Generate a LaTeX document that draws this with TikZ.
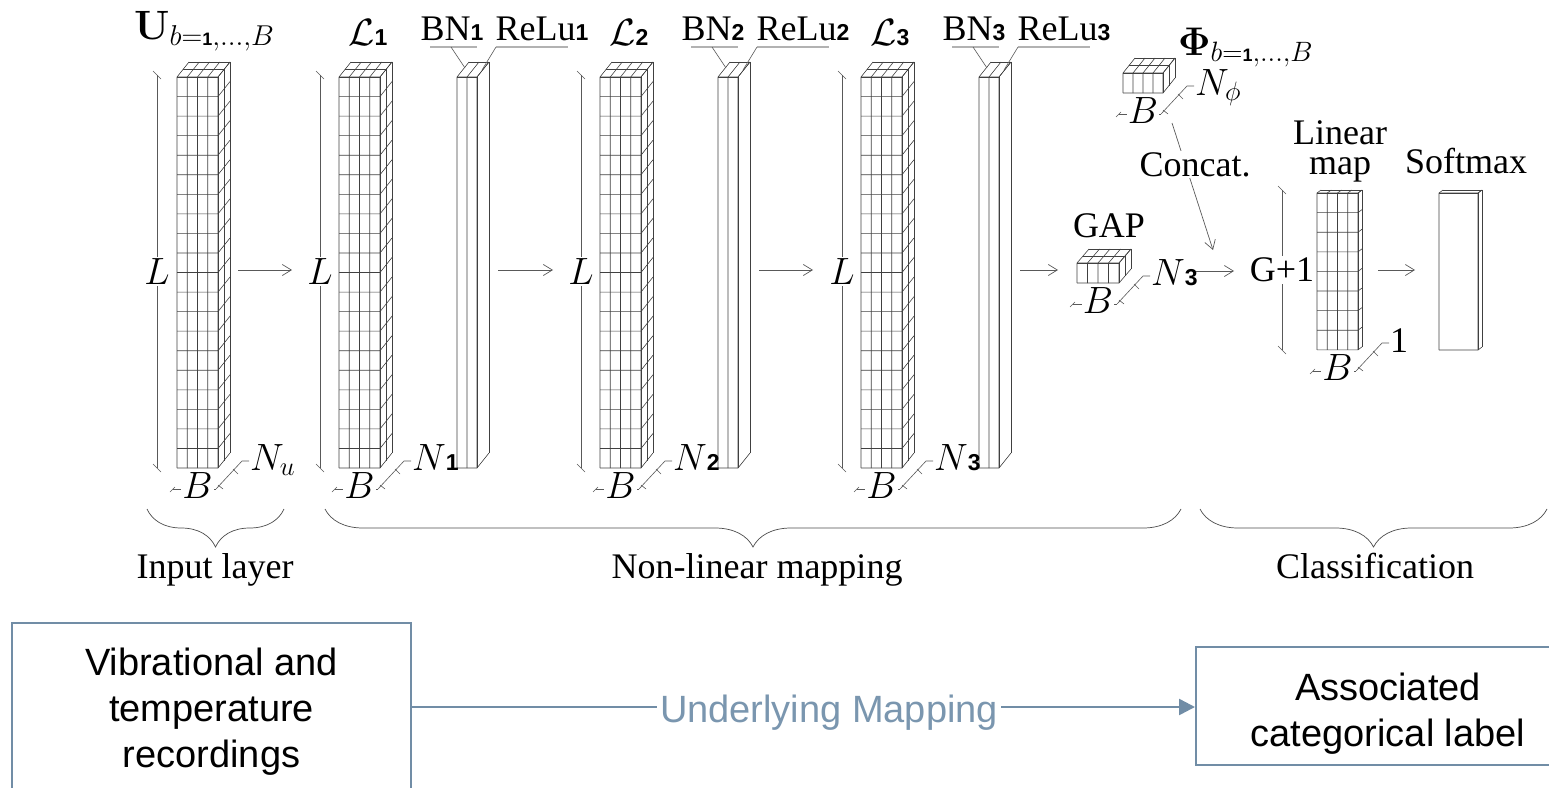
\documentclass[tikz,border=0pt]{standalone}
\usepackage{fix-cm}
\usepackage[no-math]{fontspec}
\setmainfont{Liberation Serif}
\newfontfamily\arialf{Liberation Sans}
\usetikzlibrary{arrows.meta,decorations.pathreplacing,calc}
\definecolor{steel}{RGB}{113,141,166}
\definecolor{steeltxt}{RGB}{122,150,175}
\newcommand\sone{\mbox{\fontsize{18}{18}\selectfont\arialf\bfseries 1}}
\newcommand\sd[1]{\mbox{\fontsize{23}{23}\selectfont\arialf\bfseries #1}}
\tikzset{
 gridln/.style={draw=black!75, line width=0.6pt},
 flow/.style={draw=black!65, line width=0.7pt, -{Straight Barb[length=9pt,width=11pt]}},
 dimln/.style={draw=black!65, line width=0.6pt},
 leader/.style={draw=black!30, line width=1.4pt},
 tx/.style={font=\fontsize{36}{40}\selectfont, inner sep=1pt},
 mx/.style={font=\fontsize{38}{42}\selectfont, inner sep=1pt},
 curly/.style={decorate, decoration={brace, mirror, amplitude=38pt}, draw=black!70, line width=0.7pt},
 blockbox/.style={draw=steel, line width=2pt, fill=white, align=center, font=\fontsize{38}{46}\selectfont\arialf, inner sep=0pt},
}
% x0, y0, ncols, nrows, colw, rowh, dx, dy, ndepth
\newcommand{\tens}[9]{%
 \pgfmathsetmacro{\tW}{#3*#5}%
 \pgfmathsetmacro{\tH}{#4*#6}%
 \foreach \i in {0,...,#3}{\draw[gridln] ({#1+\i*#5},{#2+\tH}) -- ({#1+\i*#5},{#2}) -- ++({#7},{#8});}
 \foreach \j in {0,...,#4}{\draw[gridln] ({#1},{#2+\j*#6}) -- ++({\tW},0) -- ++({#7},{#8});}
 \foreach \k in {0,...,#9}{\draw[gridln] ({#1+\k*(#7)/#9},{#2+\k*(#8)/#9}) -- ++({\tW},0) -- ++(0,{\tH});}
}
% x, ytop, ybot, name, label
\newcommand{\Ldim}[5]{%
 \draw[dimln] ({#1},{#2}) -- ({#1},{#3});
 \draw[dimln] ({#1-4},{#2-4}) -- ({#1+4},{#2+4});
 \draw[dimln] ({#1-4},{#3-4}) -- ({#1+4},{#3+4});
 \node[mx,fill=white,inner sep=2pt] (#4) at ({#1},{(#2+#3)/2}) {#5};
}
% x0, w, ybot, label, name
\newcommand{\BNdim}[5]{%
 \draw[dimln] ({#1-4},{#3+21}) -- ({#1+#2-2},{#3+21});
 \draw[dimln] ({#1-7},{#3+24}) -- ({#1-2},{#3+19});
 \node[mx,anchor=base,fill=white,inner sep=1pt] (B#5) at ({#1+#2/2},{#3+30}) {$B$};
 \draw[dimln] ({#1+#2-2},{#3+21}) -- ({#1+#2+24},{#3-7}) -- ({#1+#2+31},{#3-7});
 \draw[dimln] ({#1+#2},{#3+17}) -- ({#1+#2+5},{#3+21});
 \draw[dimln] ({#1+#2+15},{#3+1}) -- ({#1+#2+20},{#3+6});
 \node[mx,anchor=base west,inner sep=0pt] (N#5) at ({#1+#2+32},{#3+2}) {#4};
}
\begin{document}
\begin{tikzpicture}[x=1pt,y=-1pt]
\useasboundingbox (0,0) rectangle (1549,787);
% ---------- input layer
\tens{177}{77}{4}{20}{10.25}{19.55}{12}{-15}{2}
\Ldim{157}{75}{468}{Lu}{$L$}
\BNdim{177}{41}{468}{$N_u$}{u}
\node[mx,anchor=base west,font=\fontsize{41}{44}\selectfont] (Ulab) at (133,39) {$\mathbf{U}_{b=\sone,\dots,B}$};
% ---------- non-linear layers
\foreach \s/\n in {0/1,261/2,522/3}{
 \tens{339+\s}{77}{4}{20}{10.25}{19.55}{12}{-15}{2}
 \tens{457+\s}{77}{2}{1}{10}{391}{12}{-15}{1}
 \Ldim{320+\s}{75}{468}{L\n}{$L$}
 \BNdim{339+\s}{41}{468}{$N$\sd{\n}}{l\n}
 \node[mx,anchor=base] (title\n) at ({368+\s},45) {$\mathcal{L}$\sd{\n}};
 \node[tx,anchor=base] (bn\n) at ({452+\s},40) {BN\sd{\n}};
 \node[tx,anchor=base] (relu\n) at ({542+\s},40) {ReLu\sd{\n}};
 \draw[leader] ({430+\s},47) -- ({477+\s},47);
 \draw[dimln] ({451+\s},47) -- ({465+\s},68);
 \draw[leader] ({496+\s},47) -- ({568+\s},47);
 \draw[dimln] ({496+\s},47) -- ({482+\s},70);
}
% ---------- flow arrows
\coordinate (a0s) at (238,270); \coordinate (a0e) at (292,270);
\coordinate (a1s) at (498,270); \coordinate (a1e) at (553,270);
\coordinate (a2s) at (759,270); \coordinate (a2e) at (813,270);
\coordinate (a3s) at (1020,270); \coordinate (a3e) at (1058,270);
\coordinate (a4s) at (1196,271); \coordinate (a4e) at (1234,271);
\coordinate (a5s) at (1378,270); \coordinate (a5e) at (1415,270);
\foreach \a in {0,...,5}{\draw[flow] (a\a s) -- (a\a e);}
% ---------- GAP
\tens{1077}{263}{4}{1}{10.5}{20}{12}{-14}{2}
\BNdim{1077}{42}{283}{$N$\sd{3}}{gap}
\node[tx,anchor=base] (gap) at (1109,237) {GAP};
% ---------- Phi
\tens{1123}{73}{4}{1}{10}{20}{12}{-15}{2}
\BNdim{1123}{40}{93}{$N_\phi$}{phi}
\node[mx,anchor=base west,font=\fontsize{40}{44}\selectfont] (philab) at (1177,55) {$\mathbf{\Phi}_{b=\sone,\dots,B}$};
% ---------- concat
\coordinate (cs) at (1172,123);
\coordinate (ce) at (1213,250);
\draw[flow] (cs) -- (ce);
\node[tx,anchor=base,fill=white] (concat) at (1195,176) {Concat.};
% ---------- linear map
\tens{1317}{193}{4}{8}{10.25}{19.6}{4}{-3}{1}
\Ldim{1282}{190}{350}{G}{\fontsize{36}{40}\selectfont G+1}
\BNdim{1317}{41}{350}{\fontsize{36}{40}\selectfont 1}{lin}
\node[tx,anchor=south,inner sep=0pt,align=center,font=\fontsize{36}{30}\selectfont] (lin) at (1340,182) {Linear\\map};
% ---------- softmax
\tens{1439}{193}{1}{1}{39}{157}{4}{-3}{1}
\node[tx,anchor=base] (soft) at (1466,173) {Softmax};
% ---------- braces
\coordinate (b1s) at (147,509); \coordinate (b1e) at (284,509);
\coordinate (b2s) at (325,509); \coordinate (b2e) at (1181,509);
\coordinate (b3s) at (1200,509); \coordinate (b3e) at (1547,509);
\draw[curly] (b1s) -- (b1e);
\draw[curly] (b2s) -- (b2e);
\draw[curly] (b3s) -- (b3e);
\node[tx,anchor=base] (inlab) at (215,578) {Input layer};
\node[tx,anchor=base] (nllab) at (757,578) {Non-linear mapping};
\node[tx,anchor=base] (cllab) at (1375,578) {Classification};
% ---------- bottom boxes
\node[blockbox, minimum width=399pt, minimum height=168pt] (src) at (211.5,707) {\rule{0pt}{36pt}Vibrational and\\temperature\\recordings};
\node[blockbox, minimum width=384pt, minimum height=118pt] (dst) at (1388,706) {\rule{0pt}{42pt}Associated\\categorical label};
\draw[steel, line width=2.5pt, -{Triangle[length=16pt,width=16pt]}] (src.east) -- (dst.west |- src.east);
\node[font=\fontsize{38}{46}\selectfont\arialf, text=steeltxt, fill=white, inner sep=3pt, anchor=base] (um) at (829,722) {Underlying Mapping};
\end{tikzpicture}
\end{document}
